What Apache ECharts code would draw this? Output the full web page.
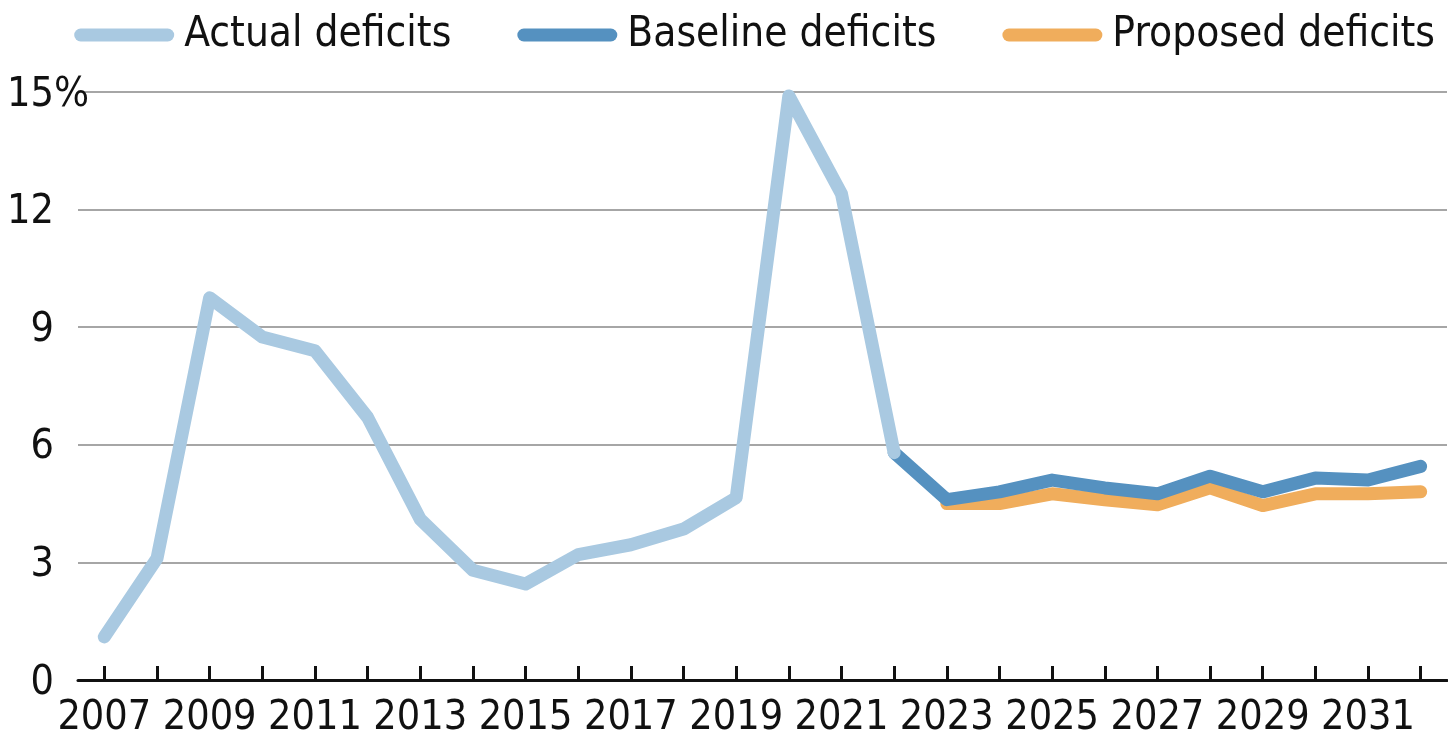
<!DOCTYPE html>
<html lang="en">
<head>
    <meta charset="UTF-8">
    <title>Deficits</title>
    <script src="https://cdn.jsdelivr.net/npm/echarts@6.0.0/dist/echarts.min.js"></script>
    <style>
        html, body { margin: 0; padding: 0; background: #fff; }
        #chart { width: 1448px; height: 738px; }
    </style>
</head>
<body>
    <div id="chart"></div>
    <script>
        // data (% of GDP)
        const years = ['2007', '2008', '2009', '2010', '2011', '2012', '2013', '2014', '2015', '2016', '2017', '2018', '2019',
            '2020', '2021', '2022', '2023', '2024', '2025', '2026', '2027', '2028', '2029', '2030', '2031', '2032'];
        const actualDeficits = [1.1, 3.1, 9.75, 8.75, 8.4, 6.7, 4.1, 2.8, 2.45, 3.2, 3.45, 3.85, 4.65, 14.9, 12.4, 5.8];
        const baselineDeficits = [5.8, 4.6, 4.8, 5.1, 4.9, 4.75, 5.2, 4.8, 5.15, 5.1, 5.45];
        const proposedDeficits = [4.5, 4.5, 4.75, 4.6, 4.47, 4.9, 4.45, 4.75, 4.75, 4.8];
        const yTicks = [0, 3, 6, 9, 12, 15];

        const FONT = "'DejaVu Sans Condensed', 'Liberation Sans', sans-serif";
        const FS = 41;
        const pill = 'path://M6.5,0 L93.5,0 A6.5,6.5 0 0 1 93.5,13 L6.5,13 A6.5,6.5 0 0 1 6.5,0 Z';

        // pad series so they sit on the right years
        const pad = (arr, start) => years.map((y, i) => (i >= start && i - start < arr.length) ? arr[i - start] : '-');

        const chart = echarts.init(document.getElementById('chart'));
        chart.setOption({
            animation: false,
            legend: {
                right: 8,
                top: 9,
                itemWidth: 100,
                itemHeight: 13,
                itemGap: 66,
                data: [
                    { name: 'Actual deficits', icon: pill },
                    { name: 'Baseline deficits', icon: pill },
                    { name: 'Proposed deficits', icon: pill }
                ],
                textStyle: { fontFamily: FONT, fontSize: 42, color: '#111', padding: [0, 0, 0, 5] }
            },
            grid: { left: 78, right: 1, top: 92, bottom: 58, outerBoundsMode: 'none', containLabel: false },
            xAxis: {
                type: 'category',
                data: years,
                boundaryGap: true,
                axisLine: { show: true, lineStyle: { color: '#111', width: 3 } },
                axisTick: { show: true, alignWithLabel: true, interval: 0, inside: true, length: 14, lineStyle: { color: '#111', width: 3 } },
                axisLabel: { interval: 1, hideOverlap: false, fontFamily: FONT, fontSize: FS, color: '#111', margin: 18 }
            },
            yAxis: {
                type: 'value',
                min: yTicks[0],
                max: yTicks[yTicks.length - 1],
                interval: 3,
                axisLine: { show: false },
                axisTick: { show: false },
                splitLine: { lineStyle: { color: '#a6a6a6', width: 2 } },
                axisLabel: {
                    fontFamily: FONT, fontSize: FS, color: '#111', margin: -11, padding: [6, 0, 0, 0],
                    formatter: v => v === 15 ? '15%' : v + '{t|%}',
                    rich: { t: { color: 'transparent', fontFamily: FONT, fontSize: FS } }
                }
            },
            series: [
                {
                    name: 'Actual deficits', type: 'line', data: pad(actualDeficits, 0), z: 4,
                    showSymbol: false, symbol: 'none', color: '#a9c9e1',
                    lineStyle: { width: 13, color: '#a9c9e1', cap: 'round', join: 'round' }
                },
                {
                    name: 'Baseline deficits', type: 'line', data: pad(baselineDeficits, 15), z: 3,
                    showSymbol: false, symbol: 'none', color: '#5591c0',
                    lineStyle: { width: 13, color: '#5591c0', cap: 'round', join: 'round' }
                },
                {
                    name: 'Proposed deficits', type: 'line', data: pad(proposedDeficits, 16), z: 2,
                    showSymbol: false, symbol: 'none', color: '#f0ad5c',
                    lineStyle: { width: 13, color: '#f0ad5c', cap: 'round', join: 'round' }
                }
            ]
        });
    </script>
</body>
</html>
